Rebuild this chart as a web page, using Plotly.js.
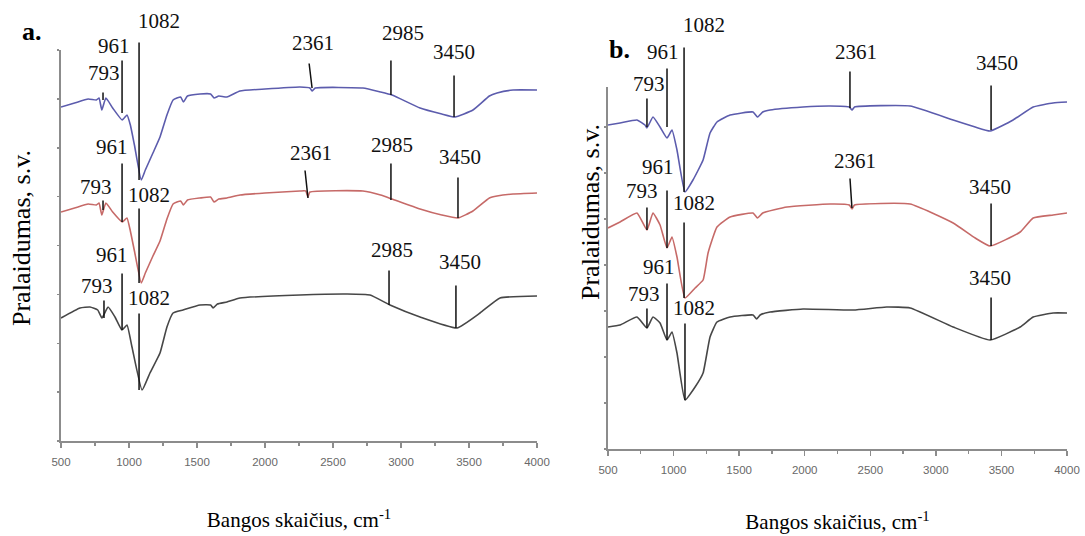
<!DOCTYPE html>
<html>
<head>
<meta charset="utf-8">
<script src="https://cdn.plot.ly/plotly-3.0.1.min.js"></script>
<style>html,body{margin:0;padding:0;background:#fff;}#chart{width:1085px;height:536px;}</style>
</head>
<body>
<div id="chart"></div>
<script>
// ---------------- DATA (arbitrary transmittance units) ----------------
// Panel a.
const aBlueWn = [500,600,700,760,780,800,830,880,950,985,1010,1040,1090,1120,1176,1228,1279,1324,1380,1400,1430,1522,1600,1625,1660,1720,1816,2000,2257,2330,2346,2370,2720,2850,2934,3140,3300,3397,3529,3650,3706,3824,4000];
const aBlueT  = [334,338,342,341,343,331,343,333,321,326,316,296,261,271,288,304,326,341,344,339,345,347,347,343,345,344,350,352,354,353,350,353,353,349,346,333,327,324,331,345,348,351,351];
const aRedWn  = [500,600,700,760,780,800,830,880,950,985,1010,1040,1090,1120,1176,1228,1279,1324,1380,1400,1430,1522,1600,1625,1660,1720,1816,2000,2257,2300,2315,2330,2720,2850,2934,3140,3300,3419,3529,3650,3706,3824,4000];
const aRedT   = [229,233,237,236,238,226,238,229,219,223,210,190,158,168,185,200,222,237,240,236,241,243,244,239,242,243,246,248,250,250,244,249,250,246,242,232,226,223,230,243,245,247,248];
const aBlackWn= [500,640,713,770,801,846,897,948,985,1022,1096,1154,1228,1279,1324,1397,1522,1600,1618,1650,1720,1816,2257,2603,2772,2919,3140,3412,3581,3728,4000];
const aBlackT = [123,133,134,131,123,134,124,111,116,94,51,68,88,114,128,131,136,136,133,137,139,143,146,147,146,136,124,113,128,143,145];
// Panel b.
const bBlueWn = [500,592,721,782,797,843,897,950,988,1026,1087,1148,1225,1278,1331,1431,1606,1640,1680,1736,1987,2193,2340,2361,2380,2804,3132,3300,3414,3589,3742,3894,4000];
const bBlueT  = [324,326,329,324,321,332,322,311,319,299,257,269,289,316,327,334,337,332,337,339,342,343,342,339,342,343,329,322,318,329,342,346,347];
const bRedWn  = [500,592,721,797,843,897,950,988,1026,1087,1164,1225,1263,1331,1431,1606,1640,1680,1865,2193,2340,2361,2380,2804,3132,3300,3414,3643,3742,3894,4000];
const bRedT   = [221,227,236,219,236,224,201,212,192,151,161,169,196,222,232,236,231,236,242,245,244,240,244,245,226,211,203,217,231,234,236];
const bBlackWn= [500,592,721,797,843,897,950,988,1026,1087,1164,1225,1278,1331,1431,1606,1633,1660,1736,1987,2371,2625,2804,3132,3414,3643,3742,3894,4000];
const bBlackT = [122,124,132,121,132,126,109,117,96,49,62,76,112,127,132,134,130,134,137,140,139,142,141,122,109,122,132,136,136];
// Axis tick labels
const xTicks = [500,1000,1500,2000,2500,3000,3500,4000];
const xTickText = ['500','1000','1500','2000','2500','3000','3500','4000'];

// ---------------- PEAK MARKERS (layout positions) ----------------
// label text, label position (lx,ly), line top (xt,yt) and bottom (xb,yb)
const peaksA = [
  ['793', 816,368, 809,349, 809,341],
  ['961', 890,395, 949,381, 949,328],
  ['1082',1221,420, 1074,399, 1074,261],
  ['2361',2353,398, 2324,378, 2346,353],
  ['2985',3015,408, 2926,381, 2926,346],
  ['3450',3390,389, 3390,366, 3390,324],
  ['793', 757,254, 809,241, 809,231],
  ['961', 875,294, 949,278, 949,219],
  ['1082',1147,246, 1074,233, 1074,158],
  ['2361',2338,288, 2294,271, 2316,243],
  ['2985',2934,296, 2926,278, 2926,241],
  ['3450',3434,284, 3419,264, 3419,223],
  ['793', 765,155, 816,141, 816,123],
  ['961', 875,186, 949,168, 949,111],
  ['1082',1147,143, 1074,128, 1074,51],
  ['2985',2934,191, 2912,171, 2912,136],
  ['3450',3434,179, 3404,156, 3404,113]
];
const peaksB = [
  ['793', 813,365, 797,351, 797,322],
  ['961', 919,397, 950,381, 950,322],
  ['1082',1232,424, 1080,402, 1080,257],
  ['2361',2391,397, 2345,378, 2345,341],
  ['3450',3466,386, 3421,364, 3421,319],
  ['793', 757,258, 797,242, 797,219],
  ['961', 878,282, 950,259, 950,201],
  ['1082',1156,246, 1080,227, 1080,151],
  ['2361',2383,288, 2345,271, 2360,241],
  ['3450',3413,262, 3421,246, 3421,203],
  ['793', 775,155, 797,141, 797,121],
  ['961', 889,182, 950,166, 950,109],
  ['1082',1156,141, 1087,126, 1087,49],
  ['3450',3413,171, 3421,152, 3421,109]
];

const H = 536, W = 1085;
const dom = {
  a: {x: [61/W, 537/W], y: [(H-441)/H, (H-50)/H], top: 391, xr: 'x', yr: 'y'},
  b: {x: [608/W, 1067/W], y: [(H-449)/H, (H-87)/H], top: 362, xr: 'x2', yr: 'y2'}
};
const BLUE = '#5c5cad', RED = '#c66a68', BLACK = '#474747';
function tr(x, y, color, xa, ya) {
  return {x: x, y: y, type: 'scatter', mode: 'lines', xaxis: xa, yaxis: ya,
          line: {color: color, width: 1.6, shape: 'spline', smoothing: 0.4}, hoverinfo: 'skip'};
}
const data = [
  tr(aBlueWn, aBlueT, BLUE, 'x', 'y'),
  tr(aRedWn, aRedT, RED, 'x', 'y'),
  tr(aBlackWn, aBlackT, BLACK, 'x', 'y'),
  tr(bBlueWn, bBlueT, BLUE, 'x2', 'y2'),
  tr(bRedWn, bRedT, RED, 'x2', 'y2'),
  tr(bBlackWn, bBlackT, BLACK, 'x2', 'y2')
];

const annotations = [];
function addPeaks(list, d) {
  list.forEach(p => {
    // label: x in data units, y converted to paper fraction so labels above the axis top stay visible
    annotations.push({xref: d.xr, yref: 'paper', x: p[1], y: d.y[0] + p[2] / d.top * (d.y[1] - d.y[0]),
      text: p[0], showarrow: false, xanchor: 'center', yanchor: 'middle',
      font: {family: 'Liberation Serif', size: 21, color: '#111'}});
    annotations.push({xref: d.xr, yref: d.yr, x: p[5], y: p[6], axref: d.xr, ayref: d.yr, ax: p[3], ay: p[4],
      text: '', showarrow: true, arrowhead: 0, arrowwidth: 1.5, arrowcolor: '#111',
      standoff: 0, startstandoff: 0, borderpad: 0, font: {size: 1}});
  });
}
addPeaks(peaksA, dom.a);
addPeaks(peaksB, dom.b);
function paperText(text, px, py, size, angle) {
  annotations.push({xref: 'paper', yref: 'paper', x: px / W, y: 1 - py / H, text: text, showarrow: false,
    xanchor: 'center', yanchor: 'middle', textangle: angle || 0,
    font: {family: 'Liberation Serif', size: size, color: '#000'}});
}
paperText('<b>a.</b>', 32, 32, 26);
paperText('<b>b.</b>', 619, 50, 26);
paperText('Pralaidumas, s.v.', 21, 238, 26, -90);
paperText('Pralaidumas, s.v.', 591, 212, 26, -90);

const AX = '#8c8c8c';
function xaxis(d, anchor, standoff) {
  return {domain: d.x, anchor: anchor, range: [500, 4000], tickmode: 'array', tickvals: xTicks, ticktext: xTickText,
    ticks: 'outside', ticklen: 5, tickwidth: 1.5, tickcolor: AX, showline: true, linecolor: AX, linewidth: 2,
    showgrid: false, zeroline: false, ticklabelstandoff: 4,
    tickfont: {family: 'Liberation Sans', size: 11.5, color: '#686868'},
    minor: {dtick: 250, tick0: 500, ticks: 'outside', ticklen: 3, tickwidth: 1.2, tickcolor: AX, showgrid: false},
    title: {text: 'Bangos skaičius, cm<sup>-1</sup>', standoff: standoff, font: {family: 'Liberation Serif', size: 21, color: '#000'}}};
}
function yaxis(d, anchor, step) {
  return {domain: d.y, anchor: anchor, range: [0, d.top], showticklabels: false, tick0: 0, dtick: step,
    ticks: 'outside', ticklen: 2, tickwidth: 1.5, tickcolor: AX, showline: true, linecolor: AX, linewidth: 2,
    showgrid: false, zeroline: false};
}
const layout = {
  width: W, height: H, margin: {l: 0, r: 0, t: 0, b: 0},
  paper_bgcolor: '#fff', plot_bgcolor: '#fff', showlegend: false,
  xaxis: xaxis(dom.a, 'y', 46),
  yaxis: yaxis(dom.a, 'x', 48.875),
  xaxis2: xaxis(dom.b, 'y2', 40),
  yaxis2: yaxis(dom.b, 'x2', 46),
  annotations: annotations
};
Plotly.newPlot('chart', data, layout, {staticPlot: true});
</script>
</body>
</html>
